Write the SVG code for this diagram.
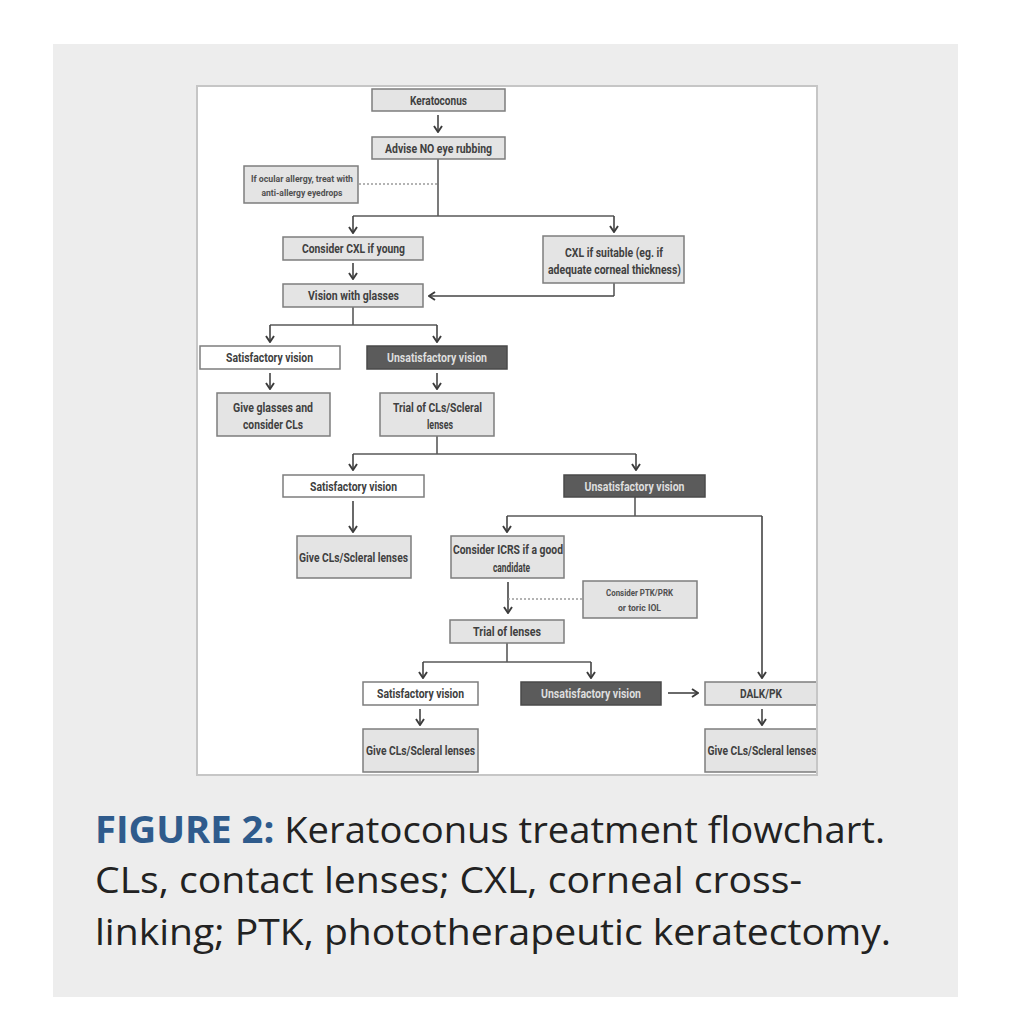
<svg xmlns="http://www.w3.org/2000/svg" width="1013" height="1024" viewBox="0 0 1013 1024">
<defs>
<marker id="arr" viewBox="0 0 10 10" refX="9" refY="5" markerWidth="10" markerHeight="10" markerUnits="userSpaceOnUse" orient="auto">
<path d="M3,1 L9,5 L3,9" fill="none" stroke="#3c3c3c" stroke-width="1.9" stroke-linejoin="miter"/>
</marker>
<clipPath id="frameClip"><rect x="197" y="86" width="620" height="689"/></clipPath>
</defs>
<style>
.box{fill:#e4e4e4;stroke:#7d7d7d;stroke-width:1.5}
.wbox{fill:#ffffff;stroke:#7d7d7d;stroke-width:1.5}
.dbox{fill:#5b5b5b;stroke:#4a4a4a;stroke-width:1.5}
.t{font-family:Roboto,"Liberation Sans",sans-serif;font-weight:bold;font-size:12px;fill:#404040;text-anchor:middle}
.ts{font-family:Roboto,"Liberation Sans",sans-serif;font-weight:bold;font-size:9px;fill:#505050;text-anchor:middle}
.td{font-family:Roboto,"Liberation Sans",sans-serif;font-weight:bold;font-size:12px;fill:#dedede;text-anchor:middle}
.ln{fill:none;stroke:#5a5a5a;stroke-width:1.6}
.ar{fill:none;stroke:#444;stroke-width:1.6;marker-end:url(#arr)}
.dot{fill:none;stroke:#9a9a9a;stroke-width:1.5;stroke-dasharray:2,2}
.cap{font-family:"Open Sans","Noto Sans",sans-serif;font-size:37px;fill:#222}
</style>
<rect x="53" y="44" width="905" height="953" fill="#ededed"/>
<rect x="197" y="86" width="620" height="689" fill="#ffffff" stroke="#c6c6c6" stroke-width="2"/>
<g clip-path="url(#frameClip)">
<g id="connectors">
<path class="ar" d="M438,115 V132"/>
<path class="ln" d="M438,159 V216 M353,216 H614"/>
<path class="ar" d="M353,216 V233"/>
<path class="ar" d="M614,216 V232"/>
<path class="dot" d="M359,184 H438"/>
<path class="ar" d="M353,263 V279"/>
<path class="ln" d="M614,283 V296"/>
<path class="ar" d="M614,296 H429"/>
<path class="ln" d="M353,307 V325 M270,325 H437"/>
<path class="ar" d="M270,325 V342"/>
<path class="ar" d="M437,325 V342"/>
<path class="ar" d="M270,373 V389"/>
<path class="ar" d="M437,373 V389"/>
<path class="ln" d="M437,436 V454 M353,454 H636"/>
<path class="ar" d="M353,454 V470"/>
<path class="ar" d="M636,454 V470"/>
<path class="ar" d="M353,501 V532"/>
<path class="ln" d="M635,497 V516 M507,516 H762"/>
<path class="ar" d="M507,516 V532"/>
<path class="ar" d="M762,516 V678"/>
<path class="ar" d="M508,582 V613"/>
<path class="dot" d="M508,599 H583"/>
<path class="ln" d="M507,643 V662 M423,662 H591"/>
<path class="ar" d="M423,662 V678"/>
<path class="ar" d="M591,662 V678"/>
<path class="ar" d="M668,693 H698"/>
<path class="ar" d="M762,709 V725"/>
<path class="ar" d="M420,709 V725"/>
</g>
<g id="n-keratoconus"><rect class="box" x="372" y="89" width="133" height="22"/><text class="t" x="438.5" y="104.5" textLength="57" lengthAdjust="spacingAndGlyphs">Keratoconus</text></g>
<g id="n-advise"><rect class="box" x="372" y="137" width="133" height="22"/><text class="t" x="438.5" y="152.5" textLength="107" lengthAdjust="spacingAndGlyphs">Advise NO eye rubbing</text></g>
<g id="n-allergy"><rect class="box" x="244" y="166" width="114" height="37"/><text class="ts" x="302" y="181.5" textLength="102" lengthAdjust="spacingAndGlyphs">If ocular allergy, treat with</text><text class="ts" x="302" y="195.5" textLength="81" lengthAdjust="spacingAndGlyphs">anti-allergy eyedrops</text></g>
<g id="n-cxl-young"><rect class="box" x="283" y="237" width="140" height="23"/><text class="t" x="353.5" y="253" textLength="103" lengthAdjust="spacingAndGlyphs">Consider CXL if young</text></g>
<g id="n-cxl-suitable"><rect class="box" x="543" y="236" width="141" height="47"/><text class="t" x="614" y="256.5" textLength="98" lengthAdjust="spacingAndGlyphs">CXL if suitable (eg. if</text><text class="t" x="614.5" y="273.5" textLength="133" lengthAdjust="spacingAndGlyphs">adequate corneal thickness)</text></g>
<g id="n-vision-glasses"><rect class="box" x="283" y="284" width="140" height="23"/><text class="t" x="353.5" y="300" textLength="91" lengthAdjust="spacingAndGlyphs">Vision with glasses</text></g>
<g id="n-sat1"><rect class="wbox" x="200" y="346" width="140" height="23"/><text class="t" x="269.5" y="362" textLength="87" lengthAdjust="spacingAndGlyphs">Satisfactory vision</text></g>
<g id="n-unsat1"><rect class="dbox" x="367" y="346" width="140" height="23"/><text class="td" x="437" y="362" textLength="100" lengthAdjust="spacingAndGlyphs">Unsatisfactory vision</text></g>
<g id="n-give-glasses"><rect class="box" x="217" y="393" width="113" height="43"/><text class="t" x="273" y="411.5" textLength="80" lengthAdjust="spacingAndGlyphs">Give glasses and</text><text class="t" x="273" y="428.5" textLength="60" lengthAdjust="spacingAndGlyphs">consider CLs</text></g>
<g id="n-trial-cls"><rect class="box" x="380" y="393" width="114" height="43"/><text class="t" x="437.5" y="411.5" textLength="89" lengthAdjust="spacingAndGlyphs">Trial of CLs/Scleral</text><text class="t" x="440" y="428.5" textLength="26" lengthAdjust="spacingAndGlyphs">lenses</text></g>
<g id="n-sat2"><rect class="wbox" x="283" y="475" width="141" height="22"/><text class="t" x="353.5" y="490.5" textLength="87" lengthAdjust="spacingAndGlyphs">Satisfactory vision</text></g>
<g id="n-unsat2"><rect class="dbox" x="564" y="475" width="141" height="22"/><text class="td" x="634.5" y="490.5" textLength="100" lengthAdjust="spacingAndGlyphs">Unsatisfactory vision</text></g>
<g id="n-give-cls1"><rect class="box" x="297" y="536" width="114" height="42"/><text class="t" x="353.5" y="561.5" textLength="109" lengthAdjust="spacingAndGlyphs">Give CLs/Scleral lenses</text></g>
<g id="n-icrs"><rect class="box" x="451" y="536" width="113" height="42"/><text class="t" x="508" y="553.5" textLength="110" lengthAdjust="spacingAndGlyphs">Consider ICRS if a good</text><text class="t" x="511.5" y="571.5" textLength="37" lengthAdjust="spacingAndGlyphs">candidate</text></g>
<g id="n-ptk"><rect class="box" x="583" y="581" width="114" height="37"/><text class="ts" x="639.5" y="595.5" textLength="67" lengthAdjust="spacingAndGlyphs">Consider PTK/PRK</text><text class="ts" x="639.5" y="610.5" textLength="43" lengthAdjust="spacingAndGlyphs">or toric IOL</text></g>
<g id="n-trial-lenses"><rect class="box" x="450" y="620" width="114" height="23"/><text class="t" x="507" y="636" textLength="68" lengthAdjust="spacingAndGlyphs">Trial of lenses</text></g>
<g id="n-sat3"><rect class="wbox" x="363" y="682" width="115" height="23"/><text class="t" x="420.5" y="698" textLength="87" lengthAdjust="spacingAndGlyphs">Satisfactory vision</text></g>
<g id="n-unsat3"><rect class="dbox" x="521" y="682" width="140" height="23"/><text class="td" x="591" y="698" textLength="100" lengthAdjust="spacingAndGlyphs">Unsatisfactory vision</text></g>
<g id="n-dalk"><rect class="box" x="705" y="682" width="115" height="23"/><text class="t" x="761" y="698" textLength="42" lengthAdjust="spacingAndGlyphs">DALK/PK</text></g>
<g id="n-give-cls2"><rect class="box" x="363" y="729" width="115" height="43"/><text class="t" x="420.5" y="755" textLength="109" lengthAdjust="spacingAndGlyphs">Give CLs/Scleral lenses</text></g>
<g id="n-give-cls3"><rect class="box" x="705" y="729" width="115" height="43"/><text class="t" x="762" y="755" textLength="109" lengthAdjust="spacingAndGlyphs">Give CLs/Scleral lenses</text></g>
</g>
<rect x="197" y="86" width="620" height="689" fill="none" stroke="#c6c6c6" stroke-width="2"/>
<g id="caption">
<text class="cap" x="95" y="843" textLength="790" lengthAdjust="spacingAndGlyphs"><tspan fill="#2f5b8c" font-weight="bold">FIGURE 2:</tspan> Keratoconus treatment flowchart.</text>
<text class="cap" x="95" y="893" textLength="707" lengthAdjust="spacingAndGlyphs">CLs, contact lenses; CXL, corneal cross-</text>
<text class="cap" x="95" y="945" textLength="796" lengthAdjust="spacingAndGlyphs">linking; PTK, phototherapeutic keratectomy.</text>
</g>
</svg>
